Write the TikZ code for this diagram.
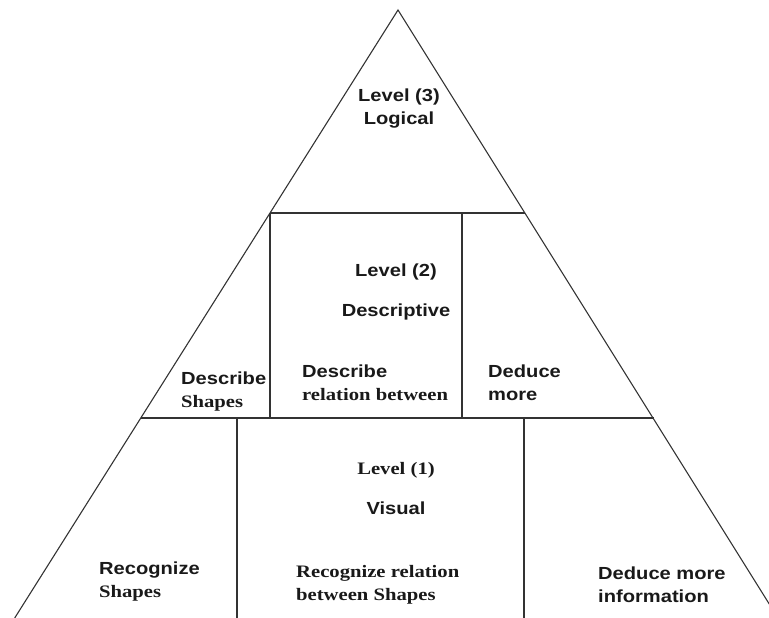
\documentclass[tikz,border=0pt]{standalone}
\usepackage{fontspec}
\setmainfont{Liberation Sans}[FakeStretch=1.15]
\newfontfamily\serf{Liberation Serif}[FakeStretch=1.18]
\begin{document}
\begin{tikzpicture}[x=1pt,y=-1pt,
  edge/.style={line width=1.1pt,draw=black!80},
  lbl/.style={inner sep=0pt,font=\fontsize{17.5}{23}\selectfont\bfseries,text=black!90},
  lbll/.style={lbl,anchor=west,align=left},
  lblc/.style={lbl,anchor=center,align=center}]
\useasboundingbox (0,0) rectangle (769,618);
\clip (0,0) rectangle (769,618);
% corners
\coordinate (A) at (398,10);
\coordinate (BL) at (14.7,618);
\coordinate (BR) at (778,618);
\coordinate (L2) at (270,213);
\coordinate (R2) at (525,213);
\coordinate (L1) at (141,418);
\coordinate (R1) at (654,418);
\coordinate (V1t) at (270,418);
\coordinate (V2t) at (462,213);
\coordinate (V2b) at (462,418);
\coordinate (V3t) at (237,418);
\coordinate (V3b) at (237,618);
\coordinate (V4t) at (524,418);
\coordinate (V4b) at (524,618);
% outline
\draw[edge] (BL) -- (A) -- (BR);
\draw[edge] (L2) -- (R2);
\draw[edge] (L1) -- (R1);
\draw[edge] (L2) -- (V1t);
\draw[edge] (V2t) -- (V2b);
\draw[edge] (V3t) -- (V3b);
\draw[edge] (V4t) -- (V4b);
% texts
\node[lblc] (t3) at (399,109) {Level (3)\\Logical};
\node[lblc] (t2) at (396,292) {Level (2)\\[17pt]Descriptive};
\node[lblc] (t1) at (396,489) {{\serf Level (1)}\\[17pt]Visual};
\node[lbll] (ds) at (181,392) {Describe\\{\serf Shapes}};
\node[lbll] (dr) at (302,383) {Describe\\{\serf relation between}};
\node[lbll] (dm) at (488,383) {Deduce\\more};
\node[lbll] (rs) at (99,582) {Recognize\\{\serf Shapes}};
\node[lbll] (rr) at (296,585) {\serf Recognize relation\\\serf between Shapes};
\node[lbll] (dmi) at (598,585) {Deduce more\\information};
\end{tikzpicture}
\end{document}
